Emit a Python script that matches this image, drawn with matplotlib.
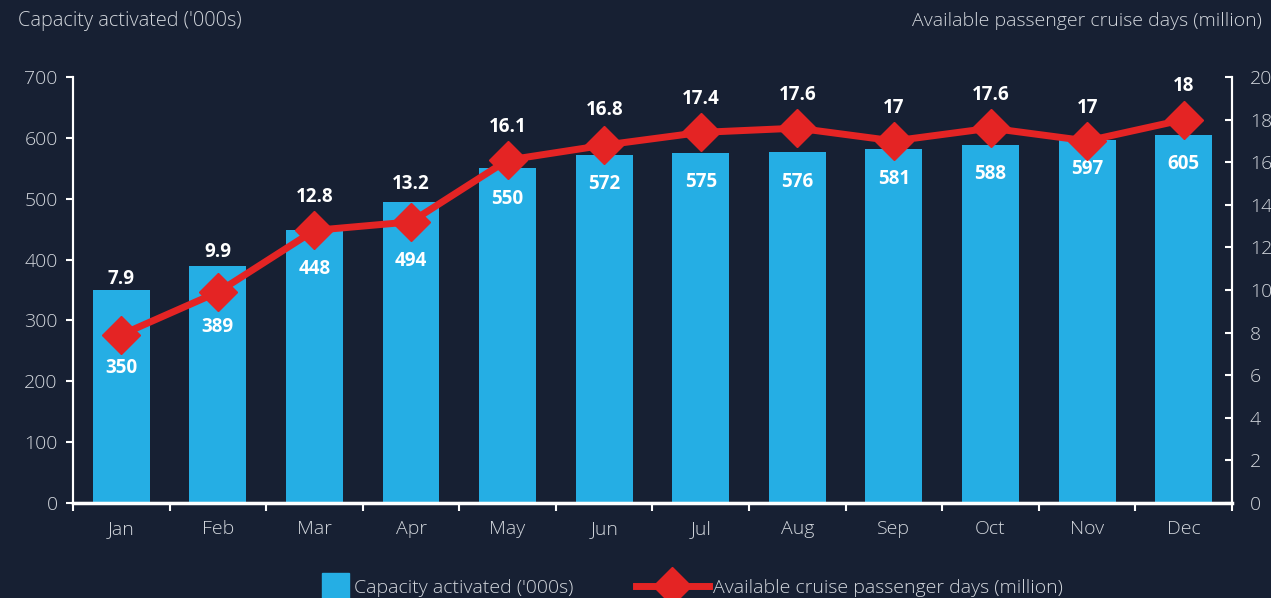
import numpy as np
import matplotlib
matplotlib.use("Agg")
import matplotlib.pyplot as plt
from matplotlib.lines import Line2D
from matplotlib.patches import Patch, Rectangle
from matplotlib.legend_handler import HandlerPatch

# chart data
months = ["Jan", "Feb", "Mar", "Apr", "May", "Jun", "Jul", "Aug", "Sep", "Oct", "Nov", "Dec"]
capacity = [350, 389, 448, 494, 550, 572, 575, 576, 581, 588, 597, 605]
cruise_days = [7.9, 9.9, 12.8, 13.2, 16.1, 16.8, 17.4, 17.6, 17, 17.6, 17, 18]
left_ticks = [0, 100, 200, 300, 400, 500, 600, 700]
right_ticks = [0, 2, 4, 6, 8, 10, 12, 14, 16, 18, 20]

# label offsets in points, so the labels clear the line and the bars
bar_label_drop = [56, 44, 28, 42, 22, 21, 21, 21, 21, 21, 21, 21]
line_label_rise = [40, 29, 24, 27, 24, 25, 24, 24, 24, 24, 24, 24]

BG = "#172033"
BLUE = "#25aee4"
RED = "#e42424"
TXT = "#d3d7dd"

plt.rcParams["font.family"] = ["Open Sans", "DejaVu Sans"]

fig = plt.figure(figsize=(12.71, 5.98), dpi=100, facecolor=BG)
ax = fig.add_axes([0.0574, 0.1589, 0.9119, 0.7123])
ax.set_facecolor(BG)
ax2 = ax.twinx()

x = np.arange(len(months))
ax.bar(x, capacity, width=0.59, color=BLUE, zorder=2)
ax.set_xlim(-0.5, len(months) - 0.5)
ax.set_ylim(0, 700)
ax.set_yticks(left_ticks)

ax2.plot(x, cruise_days, color=RED, lw=5, marker="D", ms=19, zorder=3)
ax2.set_ylim(0, 20)
ax2.set_yticks(right_ticks)

# bar value labels
for xi, v, d in zip(x, capacity, bar_label_drop):
    ax.annotate(str(v), (xi, v), xytext=(0, -d), textcoords="offset points",
                ha="center", va="center", color="white", fontsize=13.5, fontweight="bold")

# line value labels
for xi, v, r in zip(x, cruise_days, line_label_rise):
    ax2.annotate(f"{v:g}", (xi, v), xytext=(0, r), textcoords="offset points",
                 ha="center", va="center", color="white", fontsize=13.5, fontweight="bold")

# x ticks: labels at centres, marks between categories
ax.set_xticks(x)
ax.set_xticklabels(months)
ax.set_xticks(np.arange(-0.5, len(months)), minor=True)
ax.tick_params(axis="x", which="major", length=0, pad=12, labelsize=14, labelcolor=TXT)
ax.tick_params(axis="x", which="minor", length=6, width=1.5, color="white", direction="out")
ax.tick_params(axis="y", length=5, width=1.5, color="white", labelsize=14, labelcolor=TXT, pad=6)
ax2.tick_params(axis="y", length=5, width=1.5, color="white", labelsize=14, labelcolor=TXT,
                direction="in", pad=13)
for lab in ax.get_xticklabels() + ax.get_yticklabels() + ax2.get_yticklabels():
    lab.set_fontweight("light")

for a in (ax, ax2):
    a.spines["top"].set_visible(False)
    for s in ("left", "right", "bottom"):
        a.spines[s].set_color("white")
        a.spines[s].set_linewidth(1.5)
ax.spines["bottom"].set_linewidth(2.5)

fig.text(18 / 1271, 1 - 21 / 598, "Capacity activated ('000s)", color=TXT, fontsize=14.3,
         fontweight="light", ha="left", va="center")
fig.text(1262 / 1271, 1 - 21 / 598, "Available passenger cruise days (million)", color=TXT,
         fontsize=14, fontweight="light", ha="right", va="center")


# square legend swatch, sitting at the right end of the handle box
def square_swatch(legend, orig_handle, xdescent, ydescent, width, height, fontsize):
    s = 19.5
    return Rectangle((width - xdescent - s, height / 2 - ydescent - s / 2), s, s)


handles = [Patch(facecolor=BLUE, edgecolor=BLUE),
           Line2D([0], [0], color=RED, lw=5, marker="D", ms=19)]
leg = fig.legend(handles, ["Capacity activated ('000s)", "Available cruise passenger days (million)"],
                 loc="center", bbox_to_anchor=(0.527, 1 - 588 / 598), ncol=2, frameon=False,
                 labelcolor=TXT, handlelength=3.75, handletextpad=0.25,
                 columnspacing=3.2, prop={"weight": "light", "size": 14},
                 handler_map={Patch: HandlerPatch(patch_func=square_swatch)})

fig.savefig("out.png", dpi=100, facecolor=BG)
